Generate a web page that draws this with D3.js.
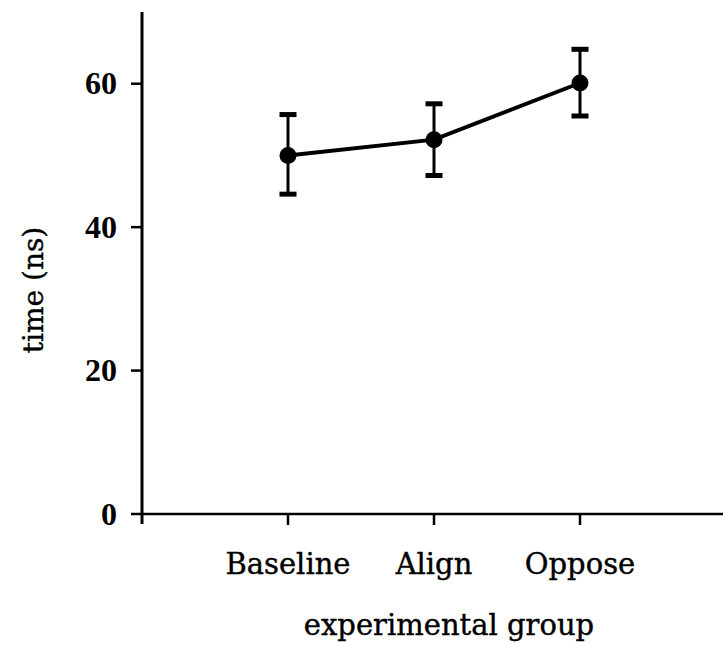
<!DOCTYPE html>
<html><head><meta charset="utf-8">
<script src="https://cdn.jsdelivr.net/npm/d3@7"></script>
<style>body{margin:0;background:#fff}svg{display:block}</style>
</head><body>
<script>
const categories = ["Baseline", "Align", "Oppose"];
const means = [50.0, 52.2, 60.1];
const upper = [55.7, 57.2, 64.8];
const lower = [44.6, 47.2, 55.5];
const yTicks = [0, 20, 40, 60];

const W = 723, H = 647;
const svg = d3.select("body").append("svg").attr("width", W).attr("height", H);
const font = "'DejaVu Serif', serif";
const numFont = "'Liberation Serif', serif";

const x = d3.scaleLinear().domain([0, 4]).range([142, 726]);
const y = d3.scaleLinear().domain([0, 70]).range([514, 12]);

// axes lines
svg.append("line").attr("x1", x(0)).attr("x2", x(0)).attr("y1", y(70)).attr("y2", y(0) + 10)
  .attr("stroke", "#000").attr("stroke-width", 3);
svg.append("line").attr("x1", x(0)).attr("x2", W).attr("y1", y(0)).attr("y2", y(0))
  .attr("stroke", "#000").attr("stroke-width", 2.5);

// y ticks
yTicks.forEach(t => {
  svg.append("line").attr("x1", x(0) - 11).attr("x2", x(0)).attr("y1", y(t)).attr("y2", y(t))
    .attr("stroke", "#000").attr("stroke-width", 2.5);
  svg.append("text").attr("x", 117).attr("y", y(t)).attr("dy", "0.33em")
    .attr("text-anchor", "end").attr("font-family", numFont).attr("font-weight", "bold")
    .attr("font-size", 32).text(t);
});

// x ticks
categories.forEach((c, i) => {
  svg.append("line").attr("x1", x(i + 1)).attr("x2", x(i + 1)).attr("y1", y(0)).attr("y2", y(0) + 11)
    .attr("stroke", "#000").attr("stroke-width", 2.5);
  svg.append("text").attr("x", x(i + 1)).attr("y", 574)
    .attr("text-anchor", "middle").attr("font-family", font)
    .attr("stroke", "#000").attr("stroke-width", 0.4)
    .attr("font-size", 29).text(c);
});

// axis titles
svg.append("text").attr("x", 449).attr("y", 635).attr("text-anchor", "middle")
  .attr("font-family", font).attr("stroke", "#000").attr("stroke-width", 0.4)
  .attr("font-size", 29).text("experimental group");
svg.append("text").attr("transform", `translate(43,${290}) rotate(-90)`).attr("text-anchor", "middle")
  .attr("font-family", font).attr("stroke", "#000").attr("stroke-width", 0.4)
  .attr("font-size", 28).text("time (ns)");

// error bars
categories.forEach((c, i) => {
  const cx = x(i + 1);
  svg.append("line").attr("x1", cx).attr("x2", cx).attr("y1", y(upper[i])).attr("y2", y(lower[i]))
    .attr("stroke", "#000").attr("stroke-width", 3);
  [upper[i], lower[i]].forEach(v => {
    svg.append("line").attr("x1", cx - 8.5).attr("x2", cx + 8.5).attr("y1", y(v)).attr("y2", y(v))
      .attr("stroke", "#000").attr("stroke-width", 5);
  });
});

// line
const line = d3.line().x((d, i) => x(i + 1)).y(d => y(d));
svg.append("path").datum(means).attr("d", line).attr("fill", "none")
  .attr("stroke", "#000").attr("stroke-width", 4);

// points
svg.selectAll("circle.pt").data(means).enter().append("circle")
  .attr("cx", (d, i) => x(i + 1)).attr("cy", d => y(d)).attr("r", 8.5).attr("fill", "#000");
</script>
</body></html>
